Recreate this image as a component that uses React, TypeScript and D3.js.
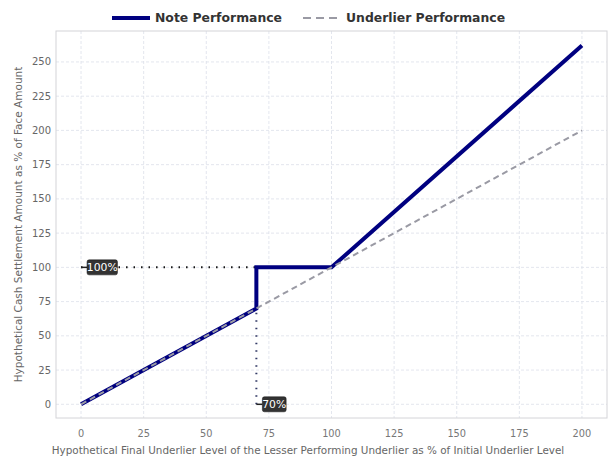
import React from "react";
import * as d3 from "d3";

const underlierLevels = [0, 25, 50, 70, 100, 125, 150, 175, 200];
const underlierPerf = [0, 25, 50, 70, 100, 125, 150, 175, 200];
const noteLevels = [0, 70, 70, 100, 200];
const noteValues = [0, 70, 100, 100, 262];
const xTicks = [0, 25, 50, 75, 100, 125, 150, 175, 200];
const yTicks = [0, 25, 50, 75, 100, 125, 150, 175, 200, 225, 250];
const barrierLevel = 70;
const principalLevel = 100;
const seriesNames = ["Note Performance", "Underlier Performance"];

const W = 609, H = 466;
const M = { left: 56, right: 2, top: 31, bottom: 48 };

export default function App() {
  const x = d3.scaleLinear().domain([-10, 210]).range([M.left, W - M.right]);
  const y = d3.scaleLinear().domain([-10, 272.6]).range([H - M.bottom, M.top]);
  const line = d3.line<[number, number]>().x(d => x(d[0])).y(d => y(d[1]));
  const noteData = noteLevels.map((v, i) => [v, noteValues[i]] as [number, number]);
  const undData = underlierLevels.map((v, i) => [v, underlierPerf[i]] as [number, number]);
  const font = "DejaVu Sans, sans-serif";
  return (
    <svg width={W} height={H} style={{ position: "absolute", left: 0, top: 0, fontFamily: font }}>
      <rect x={0} y={0} width={W} height={H} fill="#fff" />
      {/* grid */}
      {xTicks.map(t => (
        <line key={"gx" + t} x1={x(t)} x2={x(t)} y1={M.top} y2={H - M.bottom} stroke="#dcdfea" strokeDasharray="3,2" strokeWidth={0.8} />
      ))}
      {yTicks.map(t => (
        <line key={"gy" + t} x1={M.left} x2={W - M.right} y1={y(t)} y2={y(t)} stroke="#dcdfea" strokeDasharray="3,2" strokeWidth={0.8} />
      ))}
      <rect x={M.left} y={M.top} width={W - M.left - M.right} height={H - M.top - M.bottom} fill="none" stroke="#d4d4d8" strokeWidth={1} />
      {/* ticks */}
      {xTicks.map(t => (
        <text key={"tx" + t} x={x(t)} y={H - M.bottom + 19} textAnchor="middle" fontSize={9.8} fill="#777">{t}</text>
      ))}
      {yTicks.map(t => (
        <text key={"ty" + t} x={M.left - 5} y={y(t)} dy="0.35em" textAnchor="end" fontSize={10} fill="#666">{t}</text>
      ))}
      <text x={308} y={454} textAnchor="middle" fontSize={10.4} fill="#666">
        Hypothetical Final Underlier Level of the Lesser Performing Underlier as % of Initial Underlier Level
      </text>
      <text transform={`translate(22,${(M.top + H - M.bottom) / 2}) rotate(-90)`} textAnchor="middle" fontSize={10.5} fill="#666">
        Hypothetical Cash Settlement Amount as % of Face Amount
      </text>
      {/* reference dotted lines */}
      <line x1={x(0)} x2={x(barrierLevel)} y1={y(principalLevel)} y2={y(principalLevel)} stroke="#111" strokeWidth={2} strokeDasharray="1.5,6" />
      <line x1={x(barrierLevel)} x2={x(barrierLevel)} y1={y(0)} y2={y(barrierLevel)} stroke="#333a66" strokeWidth={2} strokeDasharray="1.5,6" />
      {/* series */}
      <path d={line(noteData) || ""} fill="none" stroke="#000080" strokeWidth={4} />
      <path d={line(undData) || ""} fill="none" stroke="#9a9aa4" strokeWidth={2} strokeDasharray="6,4" />
      {/* labels */}
      {[
        { lx: 0, ly: principalLevel, t: "100%" },
        { lx: barrierLevel, ly: 0, t: "70%" },
      ].map((a, i) => {
        const w = a.t.length * 6.6 + 4;
        return (
          <g key={"ann" + i}>
            <line x1={x(a.lx)} x2={x(a.lx) + 6} y1={y(a.ly)} y2={y(a.ly)} stroke="#222" strokeWidth={1.5} />
            <rect x={x(a.lx) + 6} y={y(a.ly) - 7.5} width={w} height={15} rx={2} fill="#333" stroke="#111" strokeWidth={0.5} />
            <text x={x(a.lx) + 6 + w / 2} y={y(a.ly)} dy="0.36em" textAnchor="middle" fontSize={10.8} fill="#fff">{a.t}</text>
          </g>
        );
      })}
      {/* legend */}
      <g>
        <line x1={112} x2={150} y1={18} y2={18} stroke="#000080" strokeWidth={4} />
        <text x={155} y={18} dy="0.35em" fontSize={12.4} fontWeight="bold" fill="#333">{seriesNames[0]}</text>
        <line x1={303} x2={338} y1={18} y2={18} stroke="#9a9aa4" strokeWidth={2} strokeDasharray="8,5" />
        <text x={346} y={18} dy="0.35em" fontSize={12.4} fontWeight="bold" fill="#333">{seriesNames[1]}</text>
      </g>
    </svg>
  );
}
